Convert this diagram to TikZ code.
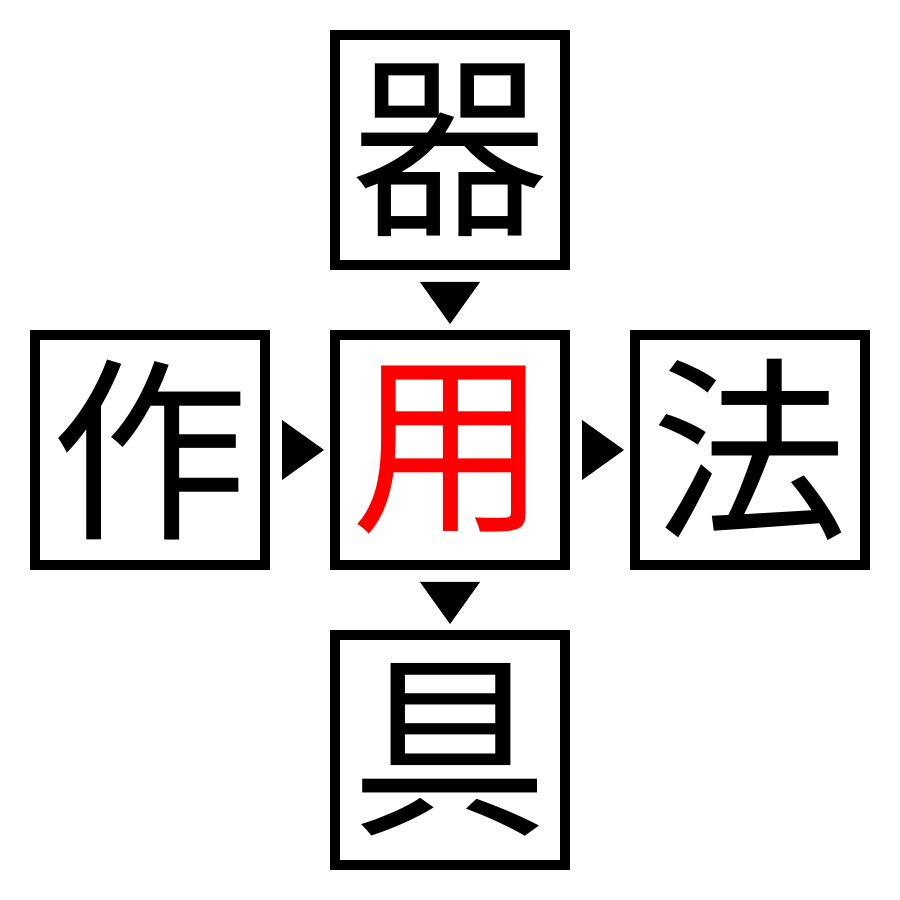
\documentclass[tikz,border=0pt]{standalone}
\usepackage{fontspec}
\newfontfamily\cjk{Noto Sans CJK JP}
\usepackage{tikz}
\usetikzlibrary{calc,positioning}
\tikzset{
	kanji/.style={draw,line width=1mm,minimum size=2.3cm,inner sep=0pt,
		font=\cjk\fontsize{56pt}{56pt}\selectfont},
}
\begin{document}
\begin{tikzpicture}[transform shape,scale=1]
		\useasboundingbox (0,0) rectangle (9,9);
		\node[kanji,text=red] (yo) at (4.5,4.5) {用};
		\node[kanji] (ki) at (4.5,7.5) {器};
		\node[kanji] (sa) at (1.5,4.5) {作};
		\node[kanji] (ho) at (7.5,4.5) {法};
		\node[kanji] (gu) at (4.5,1.5) {具};
		\foreach \a/\b in {ki/yo,sa/yo,yo/ho,yo/gu}{
			\path (\a.center) -- (\b.center) coordinate[pos=0.44] (base) coordinate[pos=0.58] (tip);
			\fill (tip) -- ($(base)!0.3cm!90:(tip)$) -- ($(base)!0.3cm!-90:(tip)$) -- cycle;
		}
	\end{tikzpicture}
\end{document}
